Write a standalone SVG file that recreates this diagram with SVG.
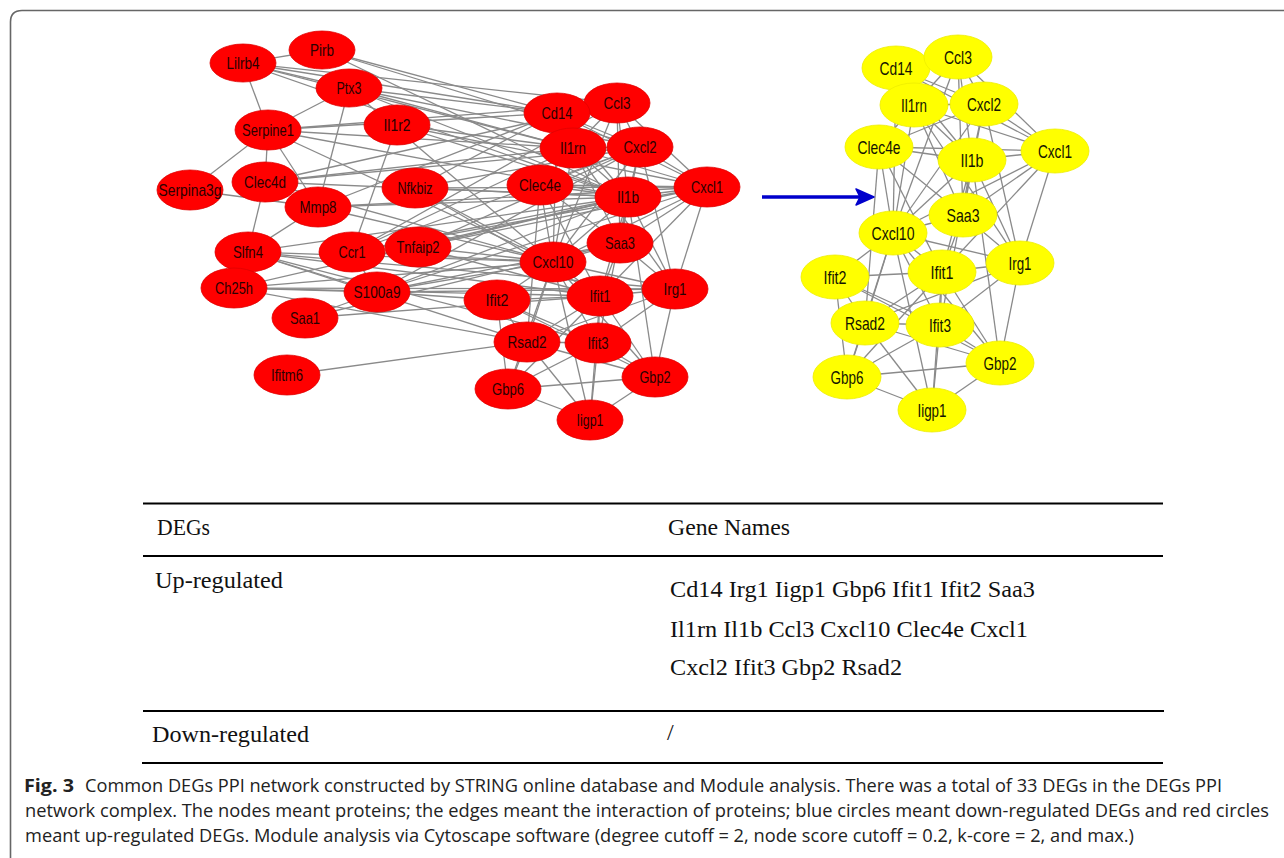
<svg xmlns="http://www.w3.org/2000/svg" width="1284" height="858" viewBox="0 0 1284 858">
<style>
.e{stroke:#8a8a8a;stroke-width:1.3;fill:none}
.rn ellipse{fill:#ff0000;stroke:#e00000;stroke-width:0.8}
.rn text{font-family:"Liberation Sans",Arial,sans-serif;font-size:17px;fill:#2a0000;text-anchor:middle}
.yn ellipse{fill:#ffff00;stroke:#eeee00;stroke-width:0.8}
.yn text{font-family:"Liberation Sans",Arial,sans-serif;font-size:18.5px;fill:#141400;text-anchor:middle}
.tb{font-family:"Liberation Serif","Times New Roman",serif;font-size:24px;fill:#111}
.cap{font-family:"Open Sans","Noto Sans",sans-serif;font-size:17.5px;fill:#222}
.rule{stroke:#000;stroke-width:2}
</style>
<rect width="1284" height="858" fill="#fff"/>
<path d="M10.5,858 L10.5,22 Q10.5,10.5 22,10.5 L1284,10.5" fill="none" stroke="#666" stroke-width="1.6"/>

<g id="connectors">
<g id="edges-left">
<line class="e" x1="557" y1="113" x2="617" y2="103"/>
<line class="e" x1="557" y1="113" x2="573" y2="148"/>
<line class="e" x1="557" y1="113" x2="640" y2="147"/>
<line class="e" x1="557" y1="113" x2="628" y2="197"/>
<line class="e" x1="557" y1="113" x2="553" y2="262"/>
<line class="e" x1="557" y1="113" x2="707" y2="187"/>
<line class="e" x1="617" y1="103" x2="573" y2="148"/>
<line class="e" x1="617" y1="103" x2="640" y2="147"/>
<line class="e" x1="617" y1="103" x2="628" y2="197"/>
<line class="e" x1="617" y1="103" x2="707" y2="187"/>
<line class="e" x1="617" y1="103" x2="553" y2="262"/>
<line class="e" x1="617" y1="103" x2="620" y2="243"/>
<line class="e" x1="573" y1="148" x2="640" y2="147"/>
<line class="e" x1="573" y1="148" x2="628" y2="197"/>
<line class="e" x1="573" y1="148" x2="540" y2="185"/>
<line class="e" x1="573" y1="148" x2="553" y2="262"/>
<line class="e" x1="573" y1="148" x2="707" y2="187"/>
<line class="e" x1="573" y1="148" x2="620" y2="243"/>
<line class="e" x1="573" y1="148" x2="675" y2="289"/>
<line class="e" x1="640" y1="147" x2="628" y2="197"/>
<line class="e" x1="640" y1="147" x2="707" y2="187"/>
<line class="e" x1="640" y1="147" x2="540" y2="185"/>
<line class="e" x1="640" y1="147" x2="553" y2="262"/>
<line class="e" x1="640" y1="147" x2="620" y2="243"/>
<line class="e" x1="640" y1="147" x2="675" y2="289"/>
<line class="e" x1="540" y1="185" x2="628" y2="197"/>
<line class="e" x1="540" y1="185" x2="707" y2="187"/>
<line class="e" x1="540" y1="185" x2="553" y2="262"/>
<line class="e" x1="540" y1="185" x2="620" y2="243"/>
<line class="e" x1="540" y1="185" x2="600" y2="296"/>
<line class="e" x1="540" y1="185" x2="527" y2="342"/>
<line class="e" x1="628" y1="197" x2="707" y2="187"/>
<line class="e" x1="628" y1="197" x2="553" y2="262"/>
<line class="e" x1="628" y1="197" x2="620" y2="243"/>
<line class="e" x1="628" y1="197" x2="675" y2="289"/>
<line class="e" x1="628" y1="197" x2="600" y2="296"/>
<line class="e" x1="628" y1="197" x2="655" y2="377"/>
<line class="e" x1="628" y1="197" x2="598" y2="343"/>
<line class="e" x1="707" y1="187" x2="553" y2="262"/>
<line class="e" x1="707" y1="187" x2="675" y2="289"/>
<line class="e" x1="707" y1="187" x2="620" y2="243"/>
<line class="e" x1="707" y1="187" x2="600" y2="296"/>
<line class="e" x1="620" y1="243" x2="553" y2="262"/>
<line class="e" x1="620" y1="243" x2="675" y2="289"/>
<line class="e" x1="620" y1="243" x2="600" y2="296"/>
<line class="e" x1="553" y1="262" x2="497" y2="300"/>
<line class="e" x1="553" y1="262" x2="600" y2="296"/>
<line class="e" x1="553" y1="262" x2="675" y2="289"/>
<line class="e" x1="553" y1="262" x2="527" y2="342"/>
<line class="e" x1="553" y1="262" x2="598" y2="343"/>
<line class="e" x1="553" y1="262" x2="655" y2="377"/>
<line class="e" x1="553" y1="262" x2="590" y2="420"/>
<line class="e" x1="553" y1="262" x2="508" y2="389"/>
<line class="e" x1="497" y1="300" x2="600" y2="296"/>
<line class="e" x1="497" y1="300" x2="527" y2="342"/>
<line class="e" x1="497" y1="300" x2="598" y2="343"/>
<line class="e" x1="497" y1="300" x2="508" y2="389"/>
<line class="e" x1="497" y1="300" x2="655" y2="377"/>
<line class="e" x1="600" y1="296" x2="675" y2="289"/>
<line class="e" x1="600" y1="296" x2="527" y2="342"/>
<line class="e" x1="600" y1="296" x2="598" y2="343"/>
<line class="e" x1="600" y1="296" x2="655" y2="377"/>
<line class="e" x1="600" y1="296" x2="508" y2="389"/>
<line class="e" x1="600" y1="296" x2="590" y2="420"/>
<line class="e" x1="675" y1="289" x2="655" y2="377"/>
<line class="e" x1="675" y1="289" x2="527" y2="342"/>
<line class="e" x1="675" y1="289" x2="598" y2="343"/>
<line class="e" x1="527" y1="342" x2="598" y2="343"/>
<line class="e" x1="527" y1="342" x2="508" y2="389"/>
<line class="e" x1="527" y1="342" x2="655" y2="377"/>
<line class="e" x1="527" y1="342" x2="590" y2="420"/>
<line class="e" x1="598" y1="343" x2="508" y2="389"/>
<line class="e" x1="598" y1="343" x2="655" y2="377"/>
<line class="e" x1="598" y1="343" x2="590" y2="420"/>
<line class="e" x1="508" y1="389" x2="655" y2="377"/>
<line class="e" x1="508" y1="389" x2="590" y2="420"/>
<line class="e" x1="655" y1="377" x2="590" y2="420"/>
<line class="e" x1="243" y1="63" x2="322" y2="50"/>
<line class="e" x1="243" y1="63" x2="268" y2="130"/>
<line class="e" x1="243" y1="63" x2="349" y2="88"/>
<line class="e" x1="243" y1="63" x2="557" y2="113"/>
<line class="e" x1="243" y1="63" x2="573" y2="148"/>
<line class="e" x1="243" y1="63" x2="617" y2="103"/>
<line class="e" x1="243" y1="63" x2="628" y2="197"/>
<line class="e" x1="322" y1="50" x2="557" y2="113"/>
<line class="e" x1="322" y1="50" x2="628" y2="197"/>
<line class="e" x1="322" y1="50" x2="640" y2="147"/>
<line class="e" x1="349" y1="88" x2="268" y2="130"/>
<line class="e" x1="349" y1="88" x2="318" y2="207"/>
<line class="e" x1="349" y1="88" x2="557" y2="113"/>
<line class="e" x1="349" y1="88" x2="573" y2="148"/>
<line class="e" x1="349" y1="88" x2="628" y2="197"/>
<line class="e" x1="349" y1="88" x2="553" y2="262"/>
<line class="e" x1="349" y1="88" x2="640" y2="147"/>
<line class="e" x1="397" y1="125" x2="352" y2="252"/>
<line class="e" x1="397" y1="125" x2="628" y2="197"/>
<line class="e" x1="397" y1="125" x2="573" y2="148"/>
<line class="e" x1="397" y1="125" x2="707" y2="187"/>
<line class="e" x1="268" y1="130" x2="265" y2="182"/>
<line class="e" x1="268" y1="130" x2="190" y2="190"/>
<line class="e" x1="268" y1="130" x2="318" y2="207"/>
<line class="e" x1="268" y1="130" x2="557" y2="113"/>
<line class="e" x1="268" y1="130" x2="573" y2="148"/>
<line class="e" x1="268" y1="130" x2="628" y2="197"/>
<line class="e" x1="268" y1="130" x2="553" y2="262"/>
<line class="e" x1="268" y1="130" x2="617" y2="103"/>
<line class="e" x1="265" y1="182" x2="248" y2="252"/>
<line class="e" x1="265" y1="182" x2="640" y2="147"/>
<line class="e" x1="265" y1="182" x2="628" y2="197"/>
<line class="e" x1="265" y1="182" x2="553" y2="262"/>
<line class="e" x1="265" y1="182" x2="573" y2="148"/>
<line class="e" x1="265" y1="182" x2="617" y2="103"/>
<line class="e" x1="190" y1="190" x2="318" y2="207"/>
<line class="e" x1="318" y1="207" x2="557" y2="113"/>
<line class="e" x1="318" y1="207" x2="628" y2="197"/>
<line class="e" x1="318" y1="207" x2="707" y2="187"/>
<line class="e" x1="318" y1="207" x2="553" y2="262"/>
<line class="e" x1="318" y1="207" x2="248" y2="252"/>
<line class="e" x1="415" y1="188" x2="557" y2="113"/>
<line class="e" x1="415" y1="188" x2="628" y2="197"/>
<line class="e" x1="415" y1="188" x2="707" y2="187"/>
<line class="e" x1="415" y1="188" x2="553" y2="262"/>
<line class="e" x1="415" y1="188" x2="640" y2="147"/>
<line class="e" x1="415" y1="188" x2="600" y2="296"/>
<line class="e" x1="248" y1="252" x2="377" y2="292"/>
<line class="e" x1="248" y1="252" x2="553" y2="262"/>
<line class="e" x1="248" y1="252" x2="600" y2="296"/>
<line class="e" x1="248" y1="252" x2="675" y2="289"/>
<line class="e" x1="248" y1="252" x2="527" y2="342"/>
<line class="e" x1="248" y1="252" x2="598" y2="343"/>
<line class="e" x1="248" y1="252" x2="628" y2="197"/>
<line class="e" x1="352" y1="252" x2="628" y2="197"/>
<line class="e" x1="352" y1="252" x2="640" y2="147"/>
<line class="e" x1="352" y1="252" x2="553" y2="262"/>
<line class="e" x1="352" y1="252" x2="707" y2="187"/>
<line class="e" x1="352" y1="252" x2="573" y2="148"/>
<line class="e" x1="352" y1="252" x2="617" y2="103"/>
<line class="e" x1="352" y1="252" x2="377" y2="292"/>
<line class="e" x1="418" y1="247" x2="628" y2="197"/>
<line class="e" x1="418" y1="247" x2="553" y2="262"/>
<line class="e" x1="418" y1="247" x2="707" y2="187"/>
<line class="e" x1="418" y1="247" x2="600" y2="296"/>
<line class="e" x1="418" y1="247" x2="640" y2="147"/>
<line class="e" x1="234" y1="288" x2="377" y2="292"/>
<line class="e" x1="234" y1="288" x2="553" y2="262"/>
<line class="e" x1="234" y1="288" x2="600" y2="296"/>
<line class="e" x1="234" y1="288" x2="527" y2="342"/>
<line class="e" x1="234" y1="288" x2="675" y2="289"/>
<line class="e" x1="234" y1="288" x2="628" y2="197"/>
<line class="e" x1="377" y1="292" x2="305" y2="318"/>
<line class="e" x1="377" y1="292" x2="628" y2="197"/>
<line class="e" x1="377" y1="292" x2="707" y2="187"/>
<line class="e" x1="377" y1="292" x2="553" y2="262"/>
<line class="e" x1="377" y1="292" x2="620" y2="243"/>
<line class="e" x1="377" y1="292" x2="675" y2="289"/>
<line class="e" x1="377" y1="292" x2="497" y2="300"/>
<line class="e" x1="377" y1="292" x2="640" y2="147"/>
<line class="e" x1="305" y1="318" x2="620" y2="243"/>
<line class="e" x1="305" y1="318" x2="600" y2="296"/>
<line class="e" x1="287" y1="375" x2="527" y2="342"/>
</g>
<g id="edges-right">
<line class="e" x1="896" y1="68" x2="958" y2="57"/>
<line class="e" x1="896" y1="68" x2="914" y2="105"/>
<line class="e" x1="896" y1="68" x2="984" y2="104"/>
<line class="e" x1="896" y1="68" x2="972" y2="160"/>
<line class="e" x1="896" y1="68" x2="893" y2="233"/>
<line class="e" x1="896" y1="68" x2="1055" y2="151"/>
<line class="e" x1="958" y1="57" x2="914" y2="105"/>
<line class="e" x1="958" y1="57" x2="984" y2="104"/>
<line class="e" x1="958" y1="57" x2="972" y2="160"/>
<line class="e" x1="958" y1="57" x2="1055" y2="151"/>
<line class="e" x1="958" y1="57" x2="893" y2="233"/>
<line class="e" x1="958" y1="57" x2="963" y2="215"/>
<line class="e" x1="914" y1="105" x2="984" y2="104"/>
<line class="e" x1="914" y1="105" x2="972" y2="160"/>
<line class="e" x1="914" y1="105" x2="879" y2="147"/>
<line class="e" x1="914" y1="105" x2="893" y2="233"/>
<line class="e" x1="914" y1="105" x2="1055" y2="151"/>
<line class="e" x1="914" y1="105" x2="963" y2="215"/>
<line class="e" x1="914" y1="105" x2="1020" y2="263"/>
<line class="e" x1="984" y1="104" x2="972" y2="160"/>
<line class="e" x1="984" y1="104" x2="1055" y2="151"/>
<line class="e" x1="984" y1="104" x2="879" y2="147"/>
<line class="e" x1="984" y1="104" x2="893" y2="233"/>
<line class="e" x1="984" y1="104" x2="963" y2="215"/>
<line class="e" x1="984" y1="104" x2="1020" y2="263"/>
<line class="e" x1="879" y1="147" x2="972" y2="160"/>
<line class="e" x1="879" y1="147" x2="1055" y2="151"/>
<line class="e" x1="879" y1="147" x2="893" y2="233"/>
<line class="e" x1="879" y1="147" x2="963" y2="215"/>
<line class="e" x1="879" y1="147" x2="942" y2="272"/>
<line class="e" x1="879" y1="147" x2="865" y2="323"/>
<line class="e" x1="972" y1="160" x2="1055" y2="151"/>
<line class="e" x1="972" y1="160" x2="893" y2="233"/>
<line class="e" x1="972" y1="160" x2="963" y2="215"/>
<line class="e" x1="972" y1="160" x2="1020" y2="263"/>
<line class="e" x1="972" y1="160" x2="942" y2="272"/>
<line class="e" x1="972" y1="160" x2="1000" y2="363"/>
<line class="e" x1="972" y1="160" x2="940" y2="325"/>
<line class="e" x1="1055" y1="151" x2="893" y2="233"/>
<line class="e" x1="1055" y1="151" x2="1020" y2="263"/>
<line class="e" x1="1055" y1="151" x2="963" y2="215"/>
<line class="e" x1="1055" y1="151" x2="942" y2="272"/>
<line class="e" x1="963" y1="215" x2="893" y2="233"/>
<line class="e" x1="963" y1="215" x2="1020" y2="263"/>
<line class="e" x1="963" y1="215" x2="942" y2="272"/>
<line class="e" x1="893" y1="233" x2="835" y2="277"/>
<line class="e" x1="893" y1="233" x2="942" y2="272"/>
<line class="e" x1="893" y1="233" x2="1020" y2="263"/>
<line class="e" x1="893" y1="233" x2="865" y2="323"/>
<line class="e" x1="893" y1="233" x2="940" y2="325"/>
<line class="e" x1="893" y1="233" x2="1000" y2="363"/>
<line class="e" x1="893" y1="233" x2="932" y2="410"/>
<line class="e" x1="893" y1="233" x2="847" y2="377"/>
<line class="e" x1="835" y1="277" x2="942" y2="272"/>
<line class="e" x1="835" y1="277" x2="865" y2="323"/>
<line class="e" x1="835" y1="277" x2="940" y2="325"/>
<line class="e" x1="835" y1="277" x2="847" y2="377"/>
<line class="e" x1="835" y1="277" x2="1000" y2="363"/>
<line class="e" x1="942" y1="272" x2="1020" y2="263"/>
<line class="e" x1="942" y1="272" x2="865" y2="323"/>
<line class="e" x1="942" y1="272" x2="940" y2="325"/>
<line class="e" x1="942" y1="272" x2="1000" y2="363"/>
<line class="e" x1="942" y1="272" x2="847" y2="377"/>
<line class="e" x1="942" y1="272" x2="932" y2="410"/>
<line class="e" x1="1020" y1="263" x2="1000" y2="363"/>
<line class="e" x1="1020" y1="263" x2="865" y2="323"/>
<line class="e" x1="1020" y1="263" x2="940" y2="325"/>
<line class="e" x1="865" y1="323" x2="940" y2="325"/>
<line class="e" x1="865" y1="323" x2="847" y2="377"/>
<line class="e" x1="865" y1="323" x2="1000" y2="363"/>
<line class="e" x1="865" y1="323" x2="932" y2="410"/>
<line class="e" x1="940" y1="325" x2="847" y2="377"/>
<line class="e" x1="940" y1="325" x2="1000" y2="363"/>
<line class="e" x1="940" y1="325" x2="932" y2="410"/>
<line class="e" x1="847" y1="377" x2="1000" y2="363"/>
<line class="e" x1="847" y1="377" x2="932" y2="410"/>
<line class="e" x1="1000" y1="363" x2="932" y2="410"/>
</g>
<g id="arrow">
<line x1="762" y1="197" x2="864" y2="197" stroke="#0000cc" stroke-width="3.5"/>
<path d="M856,189 L874,197 L856,205 L860,197 Z" fill="#0000cc" stroke="#0000cc" stroke-width="1.5" stroke-linejoin="round"/>
</g>
</g>

<g id="nodes-left" class="rn">
<g id="L-Lilrb4"><ellipse cx="243" cy="63" rx="33" ry="19"/><text x="243" y="69" textLength="33" lengthAdjust="spacingAndGlyphs">Lilrb4</text></g>
<g id="L-Pirb"><ellipse cx="322" cy="50" rx="33" ry="19"/><text x="322" y="56" textLength="24" lengthAdjust="spacingAndGlyphs">Pirb</text></g>
<g id="L-Ptx3"><ellipse cx="349" cy="88" rx="33" ry="19"/><text x="349" y="94" textLength="25" lengthAdjust="spacingAndGlyphs">Ptx3</text></g>
<g id="L-Il1r2"><ellipse cx="397" cy="125" rx="33" ry="20"/><text x="397" y="131" textLength="27" lengthAdjust="spacingAndGlyphs">Il1r2</text></g>
<g id="L-Serpine1"><ellipse cx="268" cy="130" rx="33" ry="20"/><text x="268" y="136" textLength="52" lengthAdjust="spacingAndGlyphs">Serpine1</text></g>
<g id="L-Clec4d"><ellipse cx="265" cy="182" rx="33" ry="20"/><text x="265" y="188" textLength="42" lengthAdjust="spacingAndGlyphs">Clec4d</text></g>
<g id="L-Serpina3g"><ellipse cx="190" cy="190" rx="33" ry="20"/><text x="190" y="196" textLength="63" lengthAdjust="spacingAndGlyphs">Serpina3g</text></g>
<g id="L-Mmp8"><ellipse cx="318" cy="207" rx="33" ry="20"/><text x="318" y="213" textLength="37" lengthAdjust="spacingAndGlyphs">Mmp8</text></g>
<g id="L-Nfkbiz"><ellipse cx="415" cy="188" rx="33" ry="20"/><text x="415" y="194" textLength="35" lengthAdjust="spacingAndGlyphs">Nfkbiz</text></g>
<g id="L-Slfn4"><ellipse cx="248" cy="252" rx="33" ry="20"/><text x="248" y="258" textLength="30" lengthAdjust="spacingAndGlyphs">Slfn4</text></g>
<g id="L-Ccr1"><ellipse cx="352" cy="252" rx="33" ry="20"/><text x="352" y="258" textLength="27" lengthAdjust="spacingAndGlyphs">Ccr1</text></g>
<g id="L-Tnfaip2"><ellipse cx="418" cy="247" rx="33" ry="20"/><text x="418" y="253" textLength="43" lengthAdjust="spacingAndGlyphs">Tnfaip2</text></g>
<g id="L-Ch25h"><ellipse cx="234" cy="288" rx="33" ry="20"/><text x="234" y="294" textLength="38" lengthAdjust="spacingAndGlyphs">Ch25h</text></g>
<g id="L-S100a9"><ellipse cx="377" cy="292" rx="33" ry="20"/><text x="377" y="298" textLength="47" lengthAdjust="spacingAndGlyphs">S100a9</text></g>
<g id="L-Saa1"><ellipse cx="305" cy="318" rx="33" ry="20"/><text x="305" y="324" textLength="30" lengthAdjust="spacingAndGlyphs">Saa1</text></g>
<g id="L-Ifitm6"><ellipse cx="287" cy="375" rx="33" ry="20"/><text x="287" y="381" textLength="32" lengthAdjust="spacingAndGlyphs">Ifitm6</text></g>
<g id="L-Ccl3"><ellipse cx="617" cy="103" rx="33" ry="20"/><text x="617" y="109" textLength="27" lengthAdjust="spacingAndGlyphs">Ccl3</text></g>
<g id="L-Cd14"><ellipse cx="557" cy="113" rx="33" ry="20"/><text x="557" y="119" textLength="31" lengthAdjust="spacingAndGlyphs">Cd14</text></g>
<g id="L-Il1rn"><ellipse cx="573" cy="148" rx="33" ry="20"/><text x="573" y="154" textLength="26" lengthAdjust="spacingAndGlyphs">Il1rn</text></g>
<g id="L-Cxcl2"><ellipse cx="640" cy="147" rx="33" ry="20"/><text x="640" y="153" textLength="33" lengthAdjust="spacingAndGlyphs">Cxcl2</text></g>
<g id="L-Clec4e"><ellipse cx="540" cy="185" rx="33" ry="20"/><text x="540" y="191" textLength="42" lengthAdjust="spacingAndGlyphs">Clec4e</text></g>
<g id="L-Il1b"><ellipse cx="628" cy="197" rx="33" ry="20"/><text x="628" y="203" textLength="22" lengthAdjust="spacingAndGlyphs">Il1b</text></g>
<g id="L-Cxcl1"><ellipse cx="707" cy="187" rx="33" ry="20"/><text x="707" y="193" textLength="32" lengthAdjust="spacingAndGlyphs">Cxcl1</text></g>
<g id="L-Saa3"><ellipse cx="620" cy="243" rx="33" ry="20"/><text x="620" y="249" textLength="30" lengthAdjust="spacingAndGlyphs">Saa3</text></g>
<g id="L-Cxcl10"><ellipse cx="553" cy="262" rx="33" ry="20"/><text x="553" y="268" textLength="41" lengthAdjust="spacingAndGlyphs">Cxcl10</text></g>
<g id="L-Ifit2"><ellipse cx="497" cy="300" rx="33" ry="20"/><text x="497" y="306" textLength="23" lengthAdjust="spacingAndGlyphs">Ifit2</text></g>
<g id="L-Ifit1"><ellipse cx="600" cy="296" rx="33" ry="20"/><text x="600" y="302" textLength="21" lengthAdjust="spacingAndGlyphs">Ifit1</text></g>
<g id="L-Irg1"><ellipse cx="675" cy="289" rx="33" ry="20"/><text x="675" y="295" textLength="23" lengthAdjust="spacingAndGlyphs">Irg1</text></g>
<g id="L-Rsad2"><ellipse cx="527" cy="342" rx="33" ry="20"/><text x="527" y="348" textLength="39" lengthAdjust="spacingAndGlyphs">Rsad2</text></g>
<g id="L-Ifit3"><ellipse cx="598" cy="343" rx="33" ry="20"/><text x="598" y="349" textLength="21" lengthAdjust="spacingAndGlyphs">Ifit3</text></g>
<g id="L-Gbp6"><ellipse cx="508" cy="389" rx="33" ry="20"/><text x="508" y="395" textLength="32" lengthAdjust="spacingAndGlyphs">Gbp6</text></g>
<g id="L-Gbp2"><ellipse cx="655" cy="377" rx="33" ry="20"/><text x="655" y="383" textLength="31" lengthAdjust="spacingAndGlyphs">Gbp2</text></g>
<g id="L-Iigp1"><ellipse cx="590" cy="420" rx="33" ry="20"/><text x="590" y="426" textLength="27" lengthAdjust="spacingAndGlyphs">Iigp1</text></g>
</g>

<g id="nodes-right" class="yn">
<g id="R-Cd14"><ellipse cx="896" cy="68" rx="34" ry="22"/><text x="896" y="74.5" textLength="33" lengthAdjust="spacingAndGlyphs">Cd14</text></g>
<g id="R-Ccl3"><ellipse cx="958" cy="57" rx="34" ry="22"/><text x="958" y="63.5" textLength="28" lengthAdjust="spacingAndGlyphs">Ccl3</text></g>
<g id="R-Il1rn"><ellipse cx="914" cy="105" rx="34" ry="22"/><text x="914" y="111.5" textLength="26" lengthAdjust="spacingAndGlyphs">Il1rn</text></g>
<g id="R-Cxcl2"><ellipse cx="984" cy="104" rx="34" ry="22"/><text x="984" y="110.5" textLength="34" lengthAdjust="spacingAndGlyphs">Cxcl2</text></g>
<g id="R-Clec4e"><ellipse cx="879" cy="147" rx="34" ry="22"/><text x="879" y="153.5" textLength="43" lengthAdjust="spacingAndGlyphs">Clec4e</text></g>
<g id="R-Il1b"><ellipse cx="972" cy="160" rx="34" ry="22"/><text x="972" y="166.5" textLength="23" lengthAdjust="spacingAndGlyphs">Il1b</text></g>
<g id="R-Cxcl1"><ellipse cx="1055" cy="151" rx="34" ry="22"/><text x="1055" y="157.5" textLength="34" lengthAdjust="spacingAndGlyphs">Cxcl1</text></g>
<g id="R-Saa3"><ellipse cx="963" cy="215" rx="34" ry="22"/><text x="963" y="221.5" textLength="33" lengthAdjust="spacingAndGlyphs">Saa3</text></g>
<g id="R-Cxcl10"><ellipse cx="893" cy="233" rx="34" ry="22"/><text x="893" y="239.5" textLength="43" lengthAdjust="spacingAndGlyphs">Cxcl10</text></g>
<g id="R-Ifit2"><ellipse cx="835" cy="277" rx="34" ry="22"/><text x="835" y="283.5" textLength="23" lengthAdjust="spacingAndGlyphs">Ifit2</text></g>
<g id="R-Ifit1"><ellipse cx="942" cy="272" rx="34" ry="22"/><text x="942" y="278.5" textLength="23" lengthAdjust="spacingAndGlyphs">Ifit1</text></g>
<g id="R-Irg1"><ellipse cx="1020" cy="263" rx="34" ry="22"/><text x="1020" y="269.5" textLength="23" lengthAdjust="spacingAndGlyphs">Irg1</text></g>
<g id="R-Rsad2"><ellipse cx="865" cy="323" rx="34" ry="22"/><text x="865" y="329.5" textLength="40" lengthAdjust="spacingAndGlyphs">Rsad2</text></g>
<g id="R-Ifit3"><ellipse cx="940" cy="325" rx="34" ry="22"/><text x="940" y="331.5" textLength="22" lengthAdjust="spacingAndGlyphs">Ifit3</text></g>
<g id="R-Gbp2"><ellipse cx="1000" cy="363" rx="34" ry="22"/><text x="1000" y="369.5" textLength="33" lengthAdjust="spacingAndGlyphs">Gbp2</text></g>
<g id="R-Gbp6"><ellipse cx="847" cy="377" rx="34" ry="22"/><text x="847" y="383.5" textLength="33" lengthAdjust="spacingAndGlyphs">Gbp6</text></g>
<g id="R-Iigp1"><ellipse cx="932" cy="410" rx="34" ry="22"/><text x="932" y="416.5" textLength="29" lengthAdjust="spacingAndGlyphs">Iigp1</text></g>
</g>

<g id="table">
<line class="rule" x1="143" y1="503.5" x2="1163" y2="503.5"/>
<line class="rule" x1="143" y1="556" x2="1163" y2="556"/>
<line class="rule" x1="143" y1="711" x2="1164" y2="711"/>
<line class="rule" x1="142" y1="763" x2="1163" y2="763"/>
<text class="tb" x="157" y="535" textLength="53" lengthAdjust="spacingAndGlyphs">DEGs</text>
<text class="tb" x="668" y="535" textLength="122" lengthAdjust="spacingAndGlyphs">Gene Names</text>
<text class="tb" x="155" y="588" textLength="128" lengthAdjust="spacingAndGlyphs">Up-regulated</text>
<text class="tb" x="670" y="597" textLength="365" lengthAdjust="spacingAndGlyphs">Cd14 Irg1 Iigp1 Gbp6 Ifit1 Ifit2 Saa3</text>
<text class="tb" x="670" y="637" textLength="358" lengthAdjust="spacingAndGlyphs">Il1rn Il1b Ccl3 Cxcl10 Clec4e Cxcl1</text>
<text class="tb" x="670" y="675" textLength="232" lengthAdjust="spacingAndGlyphs">Cxcl2 Ifit3 Gbp2 Rsad2</text>
<text class="tb" x="152" y="742" textLength="157" lengthAdjust="spacingAndGlyphs">Down-regulated</text>
<text class="tb" x="667" y="740">/</text>
</g>

<g id="caption">
<text class="cap" x="24" y="792" font-weight="bold" textLength="50" lengthAdjust="spacingAndGlyphs">Fig. 3</text>
<text class="cap" x="85" y="792" textLength="1137" lengthAdjust="spacingAndGlyphs">Common DEGs PPI network constructed by STRING online database and Module analysis. There was a total of 33 DEGs in the DEGs PPI</text>
<text class="cap" x="25" y="817" textLength="1244" lengthAdjust="spacingAndGlyphs">network complex. The nodes meant proteins; the edges meant the interaction of proteins; blue circles meant down-regulated DEGs and red circles</text>
<text class="cap" x="25" y="842" textLength="1109" lengthAdjust="spacingAndGlyphs">meant up-regulated DEGs. Module analysis via Cytoscape software (degree cutoff = 2, node score cutoff = 0.2, k-core = 2, and max.)</text>
</g>
</svg>
